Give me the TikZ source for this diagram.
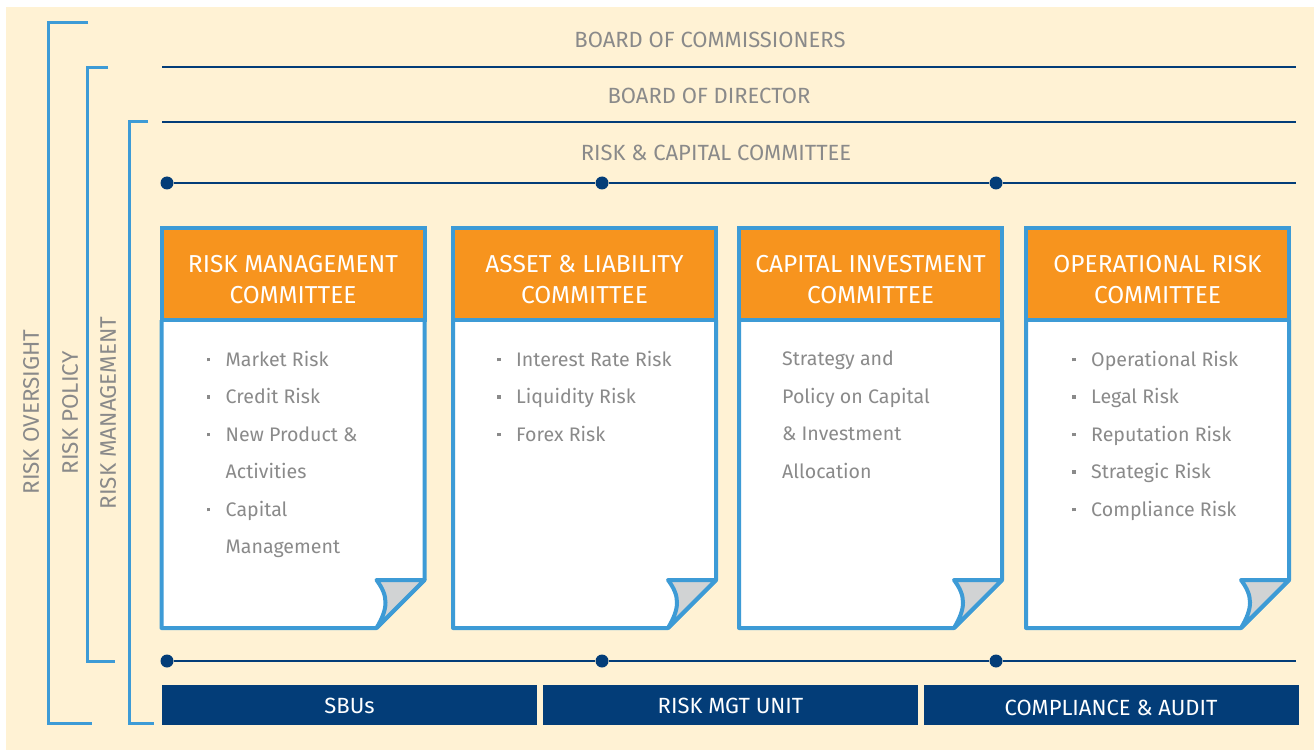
\documentclass[tikz,border=0pt]{standalone}
\usepackage{fontspec}
\setmainfont{Fira Sans}
\usetikzlibrary{positioning}
\definecolor{cream}{RGB}{255,242,212}
\definecolor{skyline}{RGB}{61,155,214}
\definecolor{navy}{RGB}{3,61,120}
\definecolor{amber}{RGB}{247,148,30}
\definecolor{greytext}{RGB}{138,138,138}
\definecolor{flapgrey}{RGB}{209,211,212}
\newcommand{\bul}{\makebox[19pt][l]{\rule[5pt]{3.5pt}{3.5pt}}}
\newcommand{\cont}{\hspace*{19pt}}

\begin{document}
\begin{tikzpicture}[
  x=1pt, y=-1pt,
  title/.style={text=greytext, inner sep=0pt, font=\fontsize{22}{26}\selectfont},
  side/.style={text=greytext, rotate=90, inner sep=0pt, font=\fontsize{22.5}{26}\selectfont},
  bracket/.style={draw=skyline, line width=3pt},
  rule/.style={draw=navy, line width=1.5pt},
  dot/.style={circle, fill=navy, inner sep=0pt, minimum size=13pt},
  head/.style={draw=skyline, line width=4pt, fill=amber, minimum width=263pt,
    minimum height=92pt, inner sep=0pt, outer sep=0pt},
  headtxt/.style={text=white, align=center, inner sep=0pt, font=\fontsize{24.5}{31}\selectfont},
  body/.style={minimum width=263pt, minimum height=308pt, inner sep=0pt, outer sep=0pt},
  sheet/.style={draw=skyline, line width=4pt, fill=white, line join=round},
  fold/.style={draw=skyline, line width=4pt, fill=flapgrey, line join=round},
  list/.style={text=greytext, align=left, inner sep=0pt, font=\fontsize{19.6}{37.5}\selectfont},
  unit/.style={fill=navy, text=white, minimum width=375pt, minimum height=40pt, inner sep=0pt,
    text height=18pt, text depth=2pt, font=\fontsize{22}{26}\selectfont}
]
\useasboundingbox (0,0) rectangle (1314,751);
\fill[cream] (6,7) rectangle (1314,750);

% brackets
\draw[bracket] (88,23) -- (48,23) -- (48,723) -- (92,723);
\draw[bracket] (108,68) -- (87,68) -- (87,661) -- (115,661);
\draw[bracket] (148,122) -- (129,122) -- (129,723) -- (154,723);
\node[side] (oversight) at (31,412) {RISK OVERSIGHT};
\node[side] (policy) at (70,413) {RISK POLICY};
\node[side] (riskmgt) at (108,413) {RISK MANAGEMENT};

% boards
\node[title] (boc) at (710,40) {BOARD OF COMMISSIONERS};
\node[title] (bod) at (709,96) {BOARD OF DIRECTOR};
\node[title] (rcc) at (716,153) {RISK \& CAPITAL COMMITTEE};
\coordinate (boc-l) at (162,67);
\coordinate (boc-r) at (1296,67);
\coordinate (bod-l) at (162,122);
\coordinate (bod-r) at (1296,122);
\draw[rule] (boc-l) -- (boc-r);
\draw[rule] (bod-l) -- (bod-r);

\node[dot] (top1) at (167,183) {};
\node[dot] (top2) at (602,183) {};
\node[dot] (top3) at (996,183) {};
\coordinate (top4) at (1296,183);
\draw[rule] (top1) -- (top2) -- (top3) -- (top4);

% committees
\node[body] (rmc-b) at (293,474) {};
\node[body] (alc-b) at (584.5,474) {};
\node[body] (cic-b) at (870.5,474) {};
\node[body] (orc-b) at (1157.5,474) {};

\foreach \b in {rmc-b, alc-b, cic-b, orc-b}{
  \filldraw[sheet] (\b.north west) -- (\b.south west) -- ([xshift=-48pt]\b.south east)
    -- ([yshift=48pt]\b.south east) -- (\b.north east);
  \filldraw[fold] ([shift={(-48pt,48pt)}]\b.south east) -- ([yshift=48pt]\b.south east)
    -- ([xshift=-48pt]\b.south east)
    .. controls ([shift={(-36pt,20pt)}]\b.south east) and ([shift={(-36pt,32pt)}]\b.south east)
    .. cycle;
}

\node[head, above=0pt of rmc-b] (rmc) {};
\node[head, above=0pt of alc-b] (alc) {};
\node[head, above=0pt of cic-b] (cic) {};
\node[head, above=0pt of orc-b] (orc) {};
\node[headtxt, below=6pt of rmc.center, anchor=center] (rmc-t) {RISK MANAGEMENT\\COMMITTEE};
\node[headtxt, below=6pt of alc.center, anchor=center] (alc-t) {ASSET \& LIABILITY\\COMMITTEE};
\node[headtxt, below=6pt of cic.center, anchor=center] (cic-t) {CAPITAL INVESTMENT\\COMMITTEE};
\node[headtxt, below=6pt of orc.center, anchor=center] (orc-t) {OPERATIONAL RISK\\COMMITTEE};

\node[list, below right=31pt and 45pt of rmc-b.north west] (rmc-l)
  {\bul Market Risk\\\bul Credit Risk\\\bul New Product \&\\\cont Activities\\\bul Capital\\\cont Management};
\node[list, below right=31pt and 44pt of alc-b.north west] (alc-l)
  {\bul Interest Rate Risk\\\bul Liquidity Risk\\\bul Forex Risk};
\node[list, below right=31pt and 43pt of cic-b.north west] (cic-l)
  {Strategy and\\Policy on Capital\\\& Investment\\Allocation};
\node[list, below right=31pt and 46pt of orc-b.north west] (orc-l)
  {\bul Operational Risk\\\bul Legal Risk\\\bul Reputation Risk\\\bul Strategic Risk\\\bul Compliance Risk};

% units
\node[dot] (bot1) at (167,661) {};
\node[dot] (bot2) at (602,661) {};
\node[dot] (bot3) at (996,661) {};
\coordinate (bot4) at (1296,661);
\draw[rule] (bot1) -- (bot2) -- (bot3) -- (bot4);

\node[unit] (sbu) at (349.5,705) {SBUs};
\node[unit] (rmu) at (730.5,705) {RISK MGT UNIT};
\node[unit] (cau) at (1111,705) {\raisebox{-2pt}{COMPLIANCE \& AUDIT}};
\end{tikzpicture}
\end{document}
